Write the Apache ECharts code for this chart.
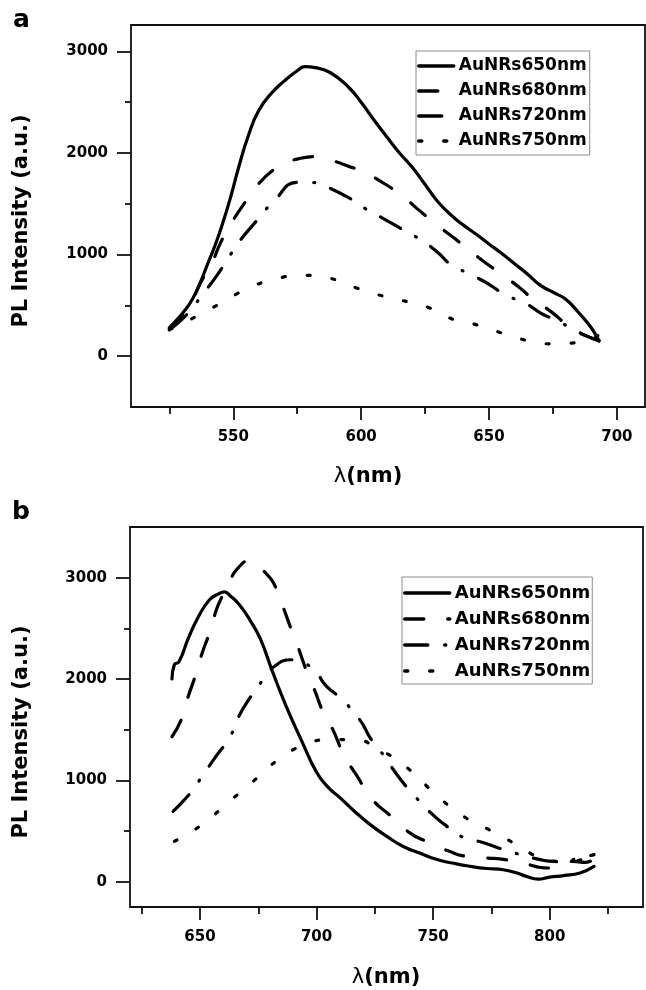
<!DOCTYPE html>
<html>
<head>
<meta charset="utf-8">
<script src="https://cdn.jsdelivr.net/npm/echarts@6/dist/echarts.min.js"></script>
<style>
html, body { margin: 0; padding: 0; background: #fff; }
#chart { width: 646px; height: 990px; }
</style>
</head>
<body>
<div id="chart"></div>
<script>
var seriesNames = ['AuNRs650nm', 'AuNRs680nm', 'AuNRs720nm', 'AuNRs750nm'];

var topMajorX = [550, 600, 650, 700];
var topMinorX = [525, 575, 625, 675];
var bottomMajorX = [650, 700, 750, 800];
var bottomMinorX = [625, 675, 725, 775, 825];
var majorY = [0, 1000, 2000, 3000];
var minorY = [500, 1500, 2500];

// panel a : [wavelength nm, PL intensity]
var a650 = [[525,280],[528,360],[531,450],[534,560],[537,720],[540,910],[543,1100],[546,1320],[549,1570],[552,1850],[556,2180],[560,2420],[565,2590],[570,2710],[575,2810],[578,2850],[582,2840],[588,2790],[595,2650],[600,2500],[604,2360],[610,2160],[615,2000],[620,1860],[625,1690],[630,1520],[636,1370],[640,1290],[645,1200],[650,1105],[655,1010],[660,910],[665,810],[670,700],[675,630],[680,560],[685,430],[690,280],[693,150]];
var a680 = [[525,270],[530,400],[534,560],[538,760],[541,880],[545,1115],[549,1300],[555,1530],[560,1700],[566,1840],[570,1900],[575,1940],[582,1965],[590,1915],[595,1870],[600,1826],[607,1730],[616,1580],[622,1450],[631,1267],[637,1150],[646,970],[653,840],[662,674],[668,543],[674,444],[682,280],[688,200],[693,160]];
var a720 = [[525,260],[529,340],[533,444],[538,609],[543,773],[549,1003],[553,1150],[558,1300],[566,1530],[575,1711],[581,1710],[587,1662],[596,1547],[602,1447],[608,1365],[616,1250],[624,1135],[630,1020],[635,905],[644,790],[650,708],[656,609],[665,510],[670,427],[674,378],[682,280],[688,200],[693,150]];
var a750 = [[525,260],[530,320],[535,385],[545,520],[555,658],[566,757],[578,796],[588,766],[598,674],[607,602],[616,549],[626,483],[636,362],[646,303],[656,220],[666,148],[674,122],[684,132],[690,170],[693,210]];

// panel b
var b650 = [[638,2000],[639,2140],[641,2170],[645,2400],[649,2600],[654,2780],[658,2840],[660.5,2860],[663,2820],[667,2730],[672,2560],[676,2390],[681,2080],[687,1730],[694,1370],[700,1080],[705,930],[710,830],[716,700],[723,563],[730,450],[737,350],[745,275],[752,217],[760,175],[766,151],[773,130],[780,118],[786,85],[790,52],[795,25],[800,45],[806,60],[813,86],[819,150]];
var b680 = [[638,1430],[642,1600],[645,1830],[648,2030],[651,2260],[654,2450],[657,2680],[659,2790],[663,2980],[666.5,3100],[671,3165],[674,3140],[678,3050],[681.5,2950],[685,2750],[689,2500],[692,2320],[696,2060],[699,1900],[703,1665],[707,1500],[712,1237],[717,1056],[724,809],[732,645],[740,481],[747,398],[757,299],[764,250],[773,234],[781,217],[791,168],[796,140],[800,135],[805,170],[810,200],[815,190],[819,220]];
var b720 = [[638.5,694],[643,800],[647,908],[651.4,1056],[656.4,1221],[663,1435],[666,1600],[670,1764],[676.5,1977],[682,2125],[689,2190],[694,2160],[699,2093],[704,1935],[711,1797],[719,1582],[723,1418],[727,1303],[735,1040],[740,900],[749,678],[755,563],[762,447],[772,382],[778,333],[785,283],[796,217],[802,200],[806,200],[812,230],[816,250],[819,267]];
var b750 = [[639,398],[651,563],[661,760],[672,974],[683,1194],[694,1343],[706,1402],[716,1402],[727,1303],[739,1122],[752,842],[763,645],[774,513],[784.5,382],[796,230],[802,200],[808,190],[814,220],[819,250]];

var lineTypes = ['solid', [19, 24], [23, 17, 1, 17], [3, 22]];
var fontFam = '"DejaVu Sans", sans-serif';

function makeSeries(name, data, idx, grid) {
    return {
        name: name,
        type: 'line',
        xAxisIndex: grid * 2,
        yAxisIndex: grid * 2,
        data: data,
        symbol: 'none',
        smooth: 0.5,
        silent: true,
        color: '#000',
        itemStyle: { color: '#000' },
        lineStyle: { color: '#000', width: 3.2, type: lineTypes[idx], cap: 'round' }
    };
}

function plain(v) { return String(v); }

function xAxes(grid, min, max, major, minor) {
    return [{
        gridIndex: grid, type: 'value', min: min, max: max, position: 'bottom',
        axisLine: { show: false, onZero: false },
        splitLine: { show: false },
        axisTick: { customValues: major, length: 13, lineStyle: { color: '#111', width: 1.8 } },
        axisLabel: { customValues: major, formatter: plain, margin: 23, color: '#000', fontFamily: fontFam, fontWeight: 'bold', fontSize: 15 }
    }, {
        gridIndex: grid, type: 'value', min: min, max: max, position: 'bottom',
        axisLine: { show: false, onZero: false },
        splitLine: { show: false },
        axisTick: { customValues: minor, length: 7, lineStyle: { color: '#111', width: 1.8 } },
        axisLabel: { show: false }
    }];
}

function yAxes(grid, min, max) {
    return [{
        gridIndex: grid, type: 'value', min: min, max: max, position: 'left',
        axisLine: { show: false, onZero: false },
        splitLine: { show: false },
        axisTick: { customValues: majorY, length: 14, lineStyle: { color: '#111', width: 1.8 } },
        axisLabel: { customValues: majorY, formatter: plain, margin: 23, color: '#000', fontFamily: fontFam, fontWeight: 'bold', fontSize: 15 }
    }, {
        gridIndex: grid, type: 'value', min: min, max: max, position: 'left',
        axisLine: { show: false, onZero: false },
        splitLine: { show: false },
        axisTick: { customValues: minorY, length: 6, lineStyle: { color: '#111', width: 1.8 } },
        axisLabel: { show: false }
    }];
}

var chart = echarts.init(document.getElementById('chart'));

var topData = [a650, a680, a720, a750];
var bottomData = [b650, b680, b720, b750];
var series = [];
topData.forEach(function (d, i) { series.push(makeSeries(seriesNames[i], d, i, 0)); });
bottomData.forEach(function (d, i) { series.push(makeSeries(seriesNames[i], d, i, 1)); });

var legendText = { fontFamily: fontFam, fontWeight: 'bold', color: '#000', lineHeight: 20 };

var lambdaRich = { l: { font: '21px "DejaVu Sans"', fill: '#000' } };

var option = {
    animation: false,
    backgroundColor: '#fff',
    grid: [
        { left: 131, top: 25, width: 514, height: 382, show: true, borderColor: '#111', borderWidth: 1.8 },
        { left: 130, top: 527, width: 513, height: 380, show: true, borderColor: '#111', borderWidth: 1.8 }
    ],
    xAxis: xAxes(0, 510, 711, topMajorX, topMinorX).concat(xAxes(1, 620, 840, bottomMajorX, bottomMinorX)),
    yAxis: yAxes(0, -500, 3260).concat(yAxes(1, -250, 3500)),
    legend: [{
        left: 416, top: 51, orient: 'vertical',
        itemWidth: 35, itemHeight: 14, itemGap: 5,
        padding: [5, 3, 4, 1],
        borderColor: '#8c8c8c', borderWidth: 1, backgroundColor: '#fff',
        itemStyle: { opacity: 0 },
        lineStyle: { width: 3.5 },
        textStyle: Object.assign({ fontSize: 17 }, legendText),
        data: seriesNames
    }, {
        left: 402, top: 577, orient: 'vertical',
        itemWidth: 45, itemHeight: 14, itemGap: 6,
        padding: [6, 2, 3, 1],
        borderColor: '#8c8c8c', borderWidth: 1, backgroundColor: '#fff',
        itemStyle: { opacity: 0 },
        lineStyle: { width: 3.5 },
        textStyle: Object.assign({ fontSize: 18 }, legendText),
        data: seriesNames
    }],
    graphic: [
        { type: 'text', x: 13, y: 8, style: { text: 'a', font: 'bold 25px "DejaVu Sans"', fill: '#000', textAlign: 'left', textVerticalAlign: 'top' } },
        { type: 'text', x: 12, y: 500, style: { text: 'b', font: 'bold 25px "DejaVu Sans"', fill: '#000', textAlign: 'left', textVerticalAlign: 'top' } },
        { type: 'text', x: 22, y: 221, rotation: Math.PI / 2, style: { text: 'PL Intensity (a.u.)', font: 'bold 21px "DejaVu Sans"', fill: '#000', textAlign: 'center', textVerticalAlign: 'middle' } },
        { type: 'text', x: 22, y: 732, rotation: Math.PI / 2, style: { text: 'PL Intensity (a.u.)', font: 'bold 21px "DejaVu Sans"', fill: '#000', textAlign: 'center', textVerticalAlign: 'middle' } },
        { type: 'text', x: 368, y: 477, style: { text: '{l|λ}(nm)', rich: lambdaRich, font: 'bold 21px "DejaVu Sans"', fill: '#000', textAlign: 'center', textVerticalAlign: 'middle' } },
        { type: 'text', x: 386, y: 978, style: { text: '{l|λ}(nm)', rich: lambdaRich, font: 'bold 21px "DejaVu Sans"', fill: '#000', textAlign: 'center', textVerticalAlign: 'middle' } }
    ],
    series: series
};

chart.setOption(option);
</script>
</body>
</html>
